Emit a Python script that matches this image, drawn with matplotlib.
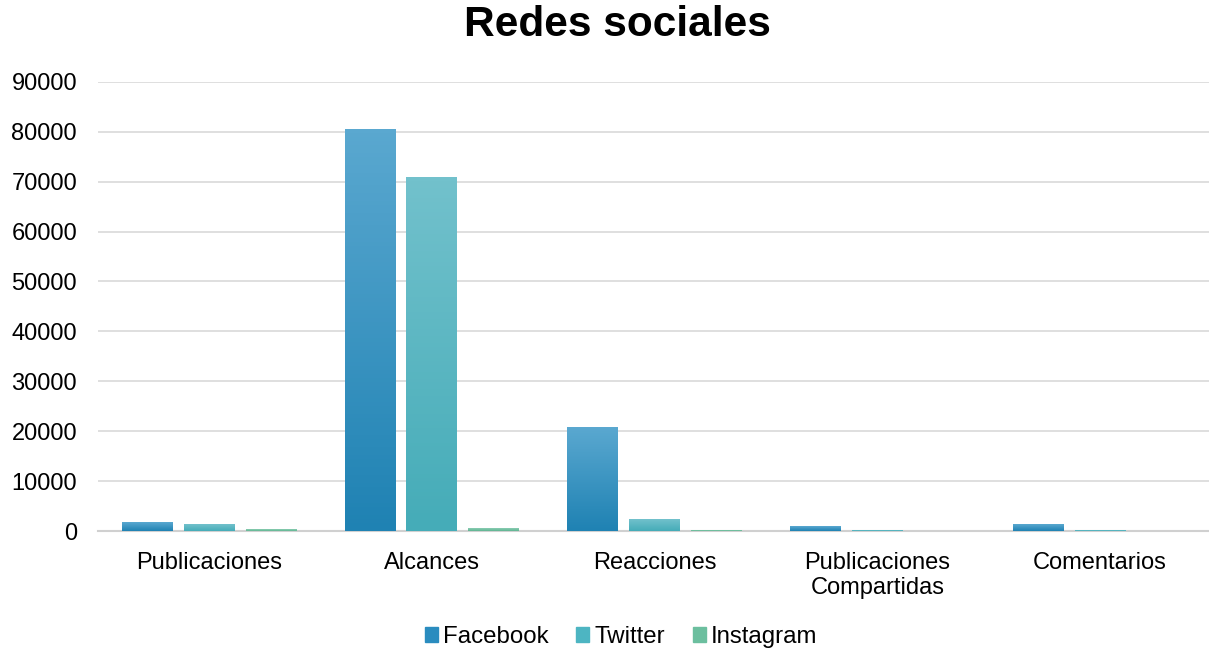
import numpy as np
import matplotlib
matplotlib.use("Agg")
import matplotlib.pyplot as plt
from matplotlib.patches import Patch

# datos
categorias = ["Publicaciones", "Alcances", "Reacciones", "Publicaciones\nCompartidas", "Comentarios"]
facebook = [1800, 80500, 20800, 1000, 1400]
twitter = [1400, 70800, 2400, 200, 100]
instagram = [400, 600, 100, 0, 0]

series = [("Facebook", facebook, "#2a8cbf", "#5aa8d0", "#1f82b3"),
          ("Twitter", twitter, "#4db5c2", "#72c1cc", "#45acb8"),
          ("Instagram", instagram, "#6cbf9f", "#8ccdb3", "#5fb592")]

plt.rcParams['font.family'] = ['Liberation Sans', 'DejaVu Sans']

fig = plt.figure(figsize=(12.09, 6.54), dpi=100)
ax = fig.add_axes([0.081, 0.188, 0.921, 0.687])

x = np.arange(len(categorias))
w = 0.229
step = 0.278

for i, (nombre, vals, col, top, bot) in enumerate(series):
    pos = x + (i - 1) * step
    ax.bar(pos, vals, w, color=col, zorder=2)
    # degradado vertical sobre cada barra
    cmap = matplotlib.colors.LinearSegmentedColormap.from_list(nombre, [bot, top])
    for p, v in zip(pos, vals):
        if v <= 0:
            continue
        grad = np.linspace(0, 1, 100).reshape(-1, 1)
        ax.imshow(grad, extent=(p - w / 2, p + w / 2, 0, v), origin="lower",
                  aspect="auto", cmap=cmap, zorder=3)

ax.set_xlim(-0.5, len(categorias) - 0.5)
ax.set_ylim(0, 90000)
ax.set_yticks(np.arange(0, 90001, 10000))
ax.set_xticks(x)
ax.set_xticklabels(categorias)
ax.yaxis.grid(True, color="#d9d9d9", linewidth=1.2, zorder=0)
ax.set_axisbelow(True)
for s in ["top", "right", "left"]:
    ax.spines[s].set_visible(False)
ax.spines["bottom"].set_color("#d0d0d0")
ax.spines["bottom"].set_linewidth(1.5)
ax.tick_params(axis="both", length=0, labelsize=17, colors="#000000")
ax.tick_params(axis="x", pad=15)
ax.tick_params(axis="y", pad=15)
for lbl in ax.get_xticklabels():
    lbl.set_linespacing(1.2)

fig.text(617 / 1209, 1 - 25 / 654, "Redes sociales", fontsize=30.5, fontweight="bold",
         ha="center", va="center")

handles = [Patch(color=c, label=n) for n, _, c, _, _ in series]
fig.legend(handles=handles, loc="center", bbox_to_anchor=(621 / 1209, 1 - 637 / 654),
           ncol=3, frameon=False, fontsize=17.3, handlelength=0.55, handleheight=0.55,
           handletextpad=0.2, columnspacing=1.15)

fig.savefig("out.png", dpi=100)
